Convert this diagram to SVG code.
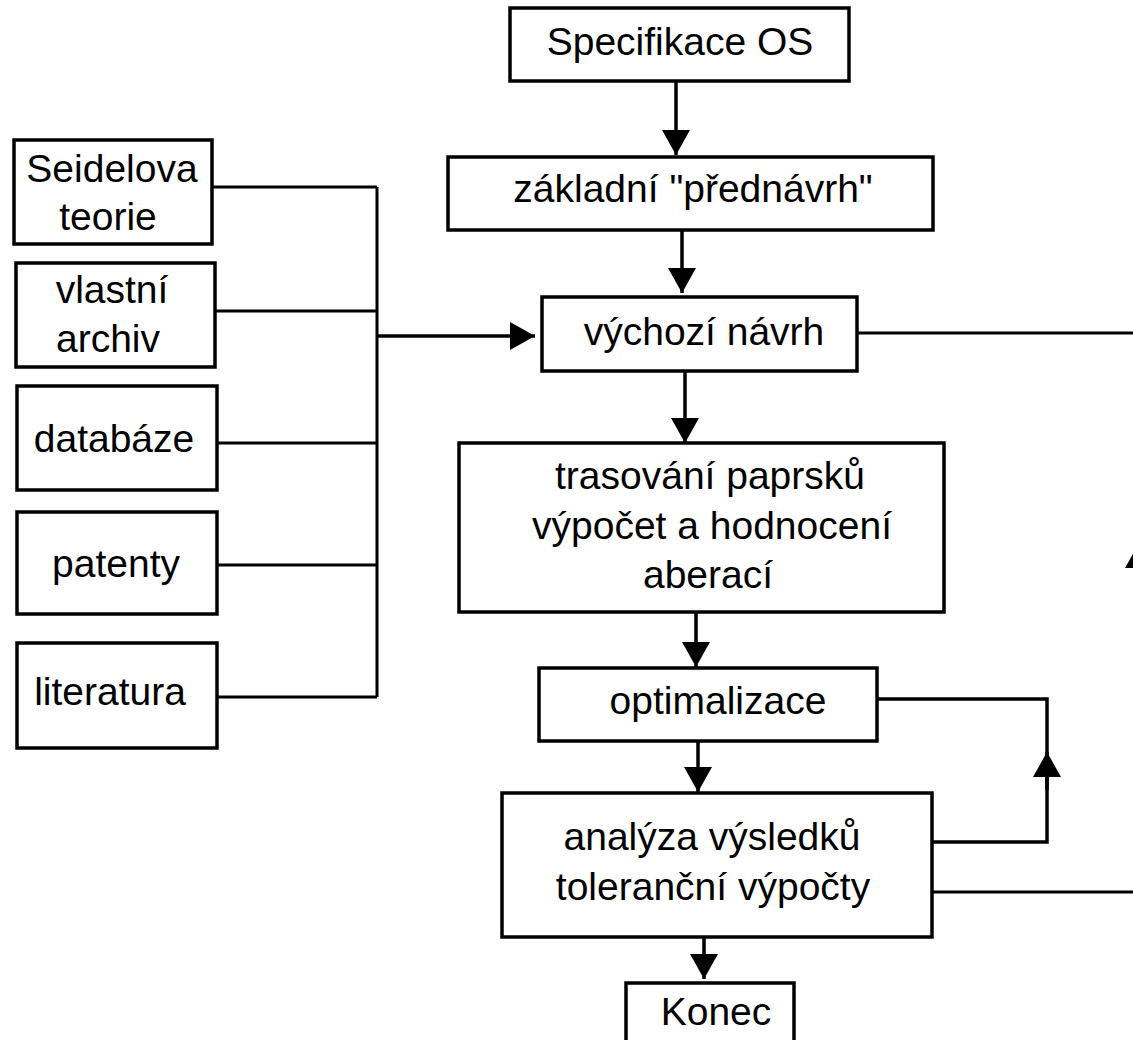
<svg xmlns="http://www.w3.org/2000/svg" width="1133" height="1040" viewBox="0 0 1133 1040">
<style>
.box{fill:#fff;stroke:#000;stroke-width:3.5}
.t{font-family:"Liberation Sans",Arial,sans-serif;font-size:39px;fill:#000;text-anchor:middle}
.c{fill:none;stroke:#000;stroke-width:3}
.a{fill:none;stroke:#000;stroke-width:3.5;marker-end:url(#ah)}
</style>
<defs>
<marker id="ah" markerUnits="userSpaceOnUse" markerWidth="25" markerHeight="28" refX="25" refY="14" orient="auto" viewBox="0 0 25 28">
<path d="M0,0 L25,14 L0,28 z" fill="#000"/>
</marker>
</defs>
<rect width="1133" height="1040" fill="#fff"/>
<g id="connectors">
<path class="c" d="M212,187 H377 M215,311 H377 M217,443 H377 M217,565 H377 M217,697 H377 M377,187 V697"/>
<line class="a" x1="377" y1="336" x2="535" y2="336"/>
<line class="a" x1="676" y1="81" x2="676" y2="155"/>
<line class="a" x1="682" y1="230" x2="682" y2="293"/>
<line class="a" x1="685" y1="371" x2="685" y2="443"/>
<line class="a" x1="696" y1="612" x2="696" y2="667"/>
<line class="a" x1="698" y1="741" x2="698" y2="792"/>
<line class="a" x1="704" y1="937" x2="704" y2="979"/>
<path class="c" d="M932,842 H1047 V699 H877" style="stroke-width:3.5"/>
<line class="a" x1="1047" y1="790" x2="1047" y2="752"/>
<path class="c" d="M932,892 H1139 V333 H857"/>
<line class="a" x1="1139" y1="600" x2="1139" y2="543"/>
</g>
<g id="n-spec"><rect class="box" x="510" y="8" width="339" height="73"/><text class="t" x="680" y="55">Specifikace OS</text></g>
<g id="n-zakladni"><rect class="box" x="448" y="157" width="485" height="73"/><text class="t" x="693" y="202">základní "přednávrh"</text></g>
<g id="n-vychozi"><rect class="box" x="542" y="297" width="315" height="74"/><text class="t" x="704" y="345">výchozí návrh</text></g>
<g id="n-trasovani"><rect class="box" x="459" y="443" width="485" height="169"/><text class="t" x="710" y="489">trasování paprsků</text><text class="t" x="712" y="539">výpočet a hodnocení</text><text class="t" x="708" y="588">aberací</text></g>
<g id="n-optim"><rect class="box" x="539" y="668" width="338" height="73"/><text class="t" x="718" y="714">optimalizace</text></g>
<g id="n-analyza"><rect class="box" x="502" y="793" width="430" height="144"/><text class="t" x="712" y="850">analýza výsledků</text><text class="t" x="713" y="900">toleranční výpočty</text></g>
<g id="n-konec"><rect class="box" x="626" y="983" width="168" height="70"/><text class="t" x="716" y="1025">Konec</text></g>
<g id="n-seidel"><rect class="box" x="14" y="140" width="198" height="104"/><text class="t" x="112" y="182">Seidelova</text><text class="t" x="108" y="230">teorie</text></g>
<g id="n-archiv"><rect class="box" x="16" y="263" width="199" height="104"/><text class="t" x="112" y="303">vlastní</text><text class="t" x="108" y="352">archiv</text></g>
<g id="n-databaze"><rect class="box" x="17" y="386" width="200" height="104"/><text class="t" x="114" y="452">databáze</text></g>
<g id="n-patenty"><rect class="box" x="17" y="512" width="200" height="102"/><text class="t" x="116" y="577">patenty</text></g>
<g id="n-literatura"><rect class="box" x="17" y="643" width="200" height="105"/><text class="t" x="110" y="705">literatura</text></g>
</svg>
